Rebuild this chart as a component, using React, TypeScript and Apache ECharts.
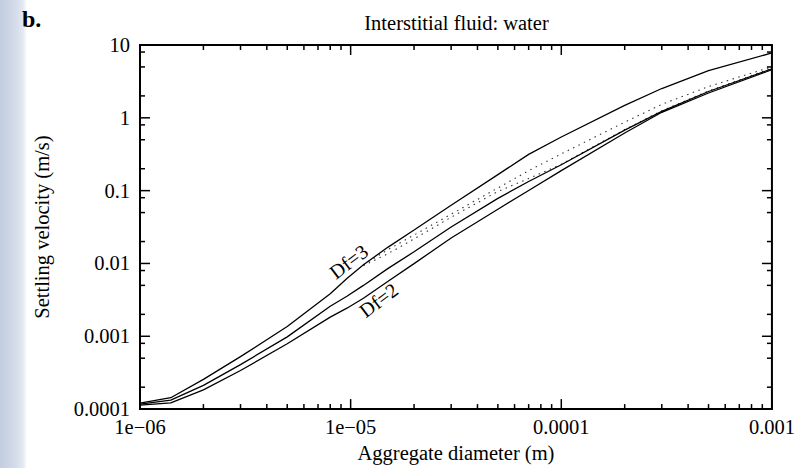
import React, { useEffect, useRef } from "react";
import * as echarts from "echarts";

// Aggregate diameter (m) sampling points
const diameters = [1e-6, 1.4e-6, 2e-6, 3e-6, 5e-6, 8e-6, 9.6e-6, 1.15e-5, 1.5e-5, 2e-5, 3e-5, 5e-5, 7e-5, 1e-4, 2e-4, 3e-4, 5e-4, 1e-3];

// Settling velocity (m/s)
const velocityDf3 = [1.206e-4, 1.433e-4, 2.556e-4, 5.25e-4, 1.363e-3, 3.83e-3, 6.2e-3, 9.6e-3, 0.01665, 0.02878, 0.0629, 0.166, 0.315, 0.545, 1.483, 2.525, 4.433, 7.786];
const velocityDottedUpper = [null, null, null, null, null, null, null, 9.6e-3, 0.0154, 0.0246, 0.0475, 0.1088, 0.188, 0.32, 0.871, 1.53, 2.687, 5.024];
const velocityDottedLower = [null, null, null, null, null, null, null, 9.3e-3, 0.01359, 0.0217, 0.0432, 0.0975, 0.1465, 0.2306, 0.689, 1.249, 2.334, 4.794];
const velocityMid = [1.169e-4, 1.325e-4, 2.119e-4, 4.087e-4, 9.81e-4, 2.588e-3, 3.54e-3, 4.995e-3, 8.5e-3, 0.01446, 0.03162, 0.0783, 0.1334, 0.227, 0.679, 1.229, 2.298, 4.719];
const velocityDf2 = [1.133e-4, 1.218e-4, 1.841e-4, 3.388e-4, 7.885e-4, 1.835e-3, 2.431e-3, 3.324e-3, 5.657e-3, 9.94e-3, 0.02241, 0.05553, 0.1006, 0.188, 0.6177, 1.191, 2.193, 4.574];

// Axes
const xDecades = [1e-6, 1e-5, 1e-4, 1e-3];
const xTickLabels = ["1e\u221206", "1e\u221205", "0.0001", "0.001"];
const yDecades = [1e-4, 1e-3, 1e-2, 1e-1, 1, 10];
const yTickLabels = ["0.0001", "0.001", "0.01", "0.1", "1", "10"];
const xMinorMultipliers = [2, 3, 4, 5, 6, 7, 8, 9];
const yMinorMultipliers = [2, 5, 8];

// Curve annotations (anchored in data coordinates)
const curveLabelTexts = ["Df=3", "Df=2"];
const curveLabelDiameters = [9.78e-6, 1.357e-5];
const curveLabelVelocities = [0.01058, 3.123e-3];

const SERIF = '"Liberation Serif", "Times New Roman", Times, serif';

function buildTicks(decades: number[], mults: number[]) {
  const ticks: { v: number; major: boolean }[] = [];
  decades.forEach((d, i) => {
    ticks.push({ v: d, major: true });
    if (i < decades.length - 1) mults.forEach((m) => ticks.push({ v: d * m, major: false }));
  });
  return ticks;
}

function pairs(ys: (number | null)[]) {
  const out: number[][] = [];
  ys.forEach((y, i) => {
    if (y != null) out.push([diameters[i], y]);
  });
  return out;
}

function labelFor(v: number, decades: number[], labels: string[]) {
  const i = decades.findIndex((d) => Math.abs(Math.log10(v / d)) < 1e-6);
  return i >= 0 ? labels[i] : "";
}

export default function App() {
  const ref = useRef<HTMLDivElement>(null);

  useEffect(() => {
    const chart = echarts.init(ref.current!, null, { renderer: "svg" });
    const xMin = xDecades[0];
    const xMax = xDecades[xDecades.length - 1];
    const yMin = yDecades[0];
    const yMax = yDecades[yDecades.length - 1];
    const xTicks = buildTicks(xDecades, xMinorMultipliers);
    const yTicks = buildTicks(yDecades, yMinorMultipliers);
    const MAJOR = 10;
    const MINOR = 5;
    const tickStyle = { stroke: "#000", lineWidth: 1.5 };

    const solid = (name: string, ys: (number | null)[]) => ({
      name,
      type: "line",
      data: pairs(ys),
      showSymbol: false,
      symbol: "none",
      silent: true,
      lineStyle: { color: "#000", width: 1.3 },
      z: 3,
    });
    const dotted = (name: string, ys: (number | null)[]) => ({
      name,
      type: "line",
      data: pairs(ys),
      showSymbol: false,
      symbol: "none",
      silent: true,
      lineStyle: { color: "#333", width: 1.1, type: [1.5, 4.5] },
      z: 2,
    });

    chart.setOption({
      animation: false,
      backgroundColor: "#fff",
      grid: {
        left: 140,
        top: 45,
        width: 633,
        height: 368,
        show: true,
        borderColor: "#000",
        borderWidth: 2,
        backgroundColor: "transparent",
      },
      graphic: [
        {
          type: "rect",
          left: 0,
          top: 0,
          z: -10,
          shape: { width: 27, height: 468 },
          style: {
            fill: new echarts.graphic.LinearGradient(0, 0, 1, 0, [
              { offset: 0, color: "#c2cde0" },
              { offset: 0.55, color: "#d3dbe9" },
              { offset: 0.85, color: "#e3e8f1" },
              { offset: 1, color: "#ffffff" },
            ]),
          },
        },
        {
          type: "text",
          x: 22,
          y: 19,
          style: {
            text: "b.",
            fontFamily: SERIF,
            fontWeight: "bold",
            fontSize: 24,
            fill: "#000",
            textAlign: "left",
            textVerticalAlign: "middle",
          },
        },
        {
          type: "text",
          x: 456.5,
          y: 23,
          style: {
            text: "Interstitial fluid: water",
            fontFamily: SERIF,
            fontSize: 20.5,
            fill: "#000",
            textAlign: "center",
            textVerticalAlign: "middle",
          },
        },
      ],
      xAxis: {
        type: "log",
        logBase: 10,
        min: xMin,
        max: xMax,
        name: "Aggregate diameter (m)",
        nameLocation: "middle",
        nameGap: 24,
        nameTextStyle: { fontFamily: SERIF, fontSize: 20.5, color: "#000", verticalAlign: "top" },
        axisLine: { show: false },
        axisTick: { show: false },
        splitLine: { show: false },
        minorTick: { show: false },
        axisLabel: {
          show: true,
          margin: 7,
          showMinLabel: true,
          showMaxLabel: true,
          fontFamily: SERIF,
          fontSize: 20.5,
          color: "#000",
          formatter: (v: number) => labelFor(v, xDecades, xTickLabels),
        },
      },
      yAxis: {
        type: "log",
        logBase: 10,
        min: yMin,
        max: yMax,
        name: "Settling velocity (m/s)",
        nameLocation: "middle",
        nameGap: 88,
        nameTextStyle: { fontFamily: SERIF, fontSize: 20.5, color: "#000" },
        axisLine: { show: false },
        axisTick: { show: false },
        splitLine: { show: false },
        minorTick: { show: false },
        axisLabel: {
          show: true,
          margin: 10,
          showMinLabel: true,
          showMaxLabel: true,
          fontFamily: SERIF,
          fontSize: 20.5,
          color: "#000",
          formatter: (v: number) => labelFor(v, yDecades, yTickLabels),
        },
      },
      series: [
        {
          type: "custom",
          silent: true,
          clip: false,
          data: xTicks.map((t) => [t.v, yMin]),
          renderItem: (params: any, api: any) => {
            const t = xTicks[params.dataIndex];
            const len = t.major ? MAJOR : MINOR;
            const b = api.coord([t.v, yMin]);
            const tp = api.coord([t.v, yMax]);
            return {
              type: "group",
              children: [
                { type: "line", shape: { x1: b[0], y1: b[1], x2: b[0], y2: b[1] - len }, style: tickStyle },
                { type: "line", shape: { x1: tp[0], y1: tp[1], x2: tp[0], y2: tp[1] + len }, style: tickStyle },
              ],
            };
          },
          z: 5,
        },
        {
          type: "custom",
          silent: true,
          clip: false,
          data: yTicks.map((t) => [xMin, t.v]),
          renderItem: (params: any, api: any) => {
            const t = yTicks[params.dataIndex];
            const len = t.major ? MAJOR : MINOR;
            const l = api.coord([xMin, t.v]);
            const r = api.coord([xMax, t.v]);
            return {
              type: "group",
              children: [
                { type: "line", shape: { x1: l[0], y1: l[1], x2: l[0] + len, y2: l[1] }, style: tickStyle },
                { type: "line", shape: { x1: r[0], y1: r[1], x2: r[0] - len, y2: r[1] }, style: tickStyle },
              ],
            };
          },
          z: 5,
        },
        dotted("Dotted upper", velocityDottedUpper),
        dotted("Dotted lower", velocityDottedLower),
        solid("Df=3", velocityDf3),
        solid("Middle", velocityMid),
        solid("Df=2", velocityDf2),
        {
          type: "custom",
          silent: true,
          clip: false,
          data: curveLabelTexts.map((_, i) => [curveLabelDiameters[i], curveLabelVelocities[i]]),
          renderItem: (params: any, api: any) => {
            const p = api.coord([api.value(0), api.value(1)]);
            return {
              type: "text",
              x: p[0],
              y: p[1],
              rotation: (37 * Math.PI) / 180,
              style: {
                text: curveLabelTexts[params.dataIndex],
                fontFamily: SERIF,
                fontSize: 20,
                fill: "#000",
                textAlign: "center",
                textVerticalAlign: "middle",
              },
            };
          },
          z: 6,
        },
      ],
    });
    return () => chart.dispose();
  }, []);

  return (
    <div
      ref={ref}
      style={{ position: "fixed", left: 0, top: 0, width: 798, height: 468, background: "#fff" }}
    />
  );
}
